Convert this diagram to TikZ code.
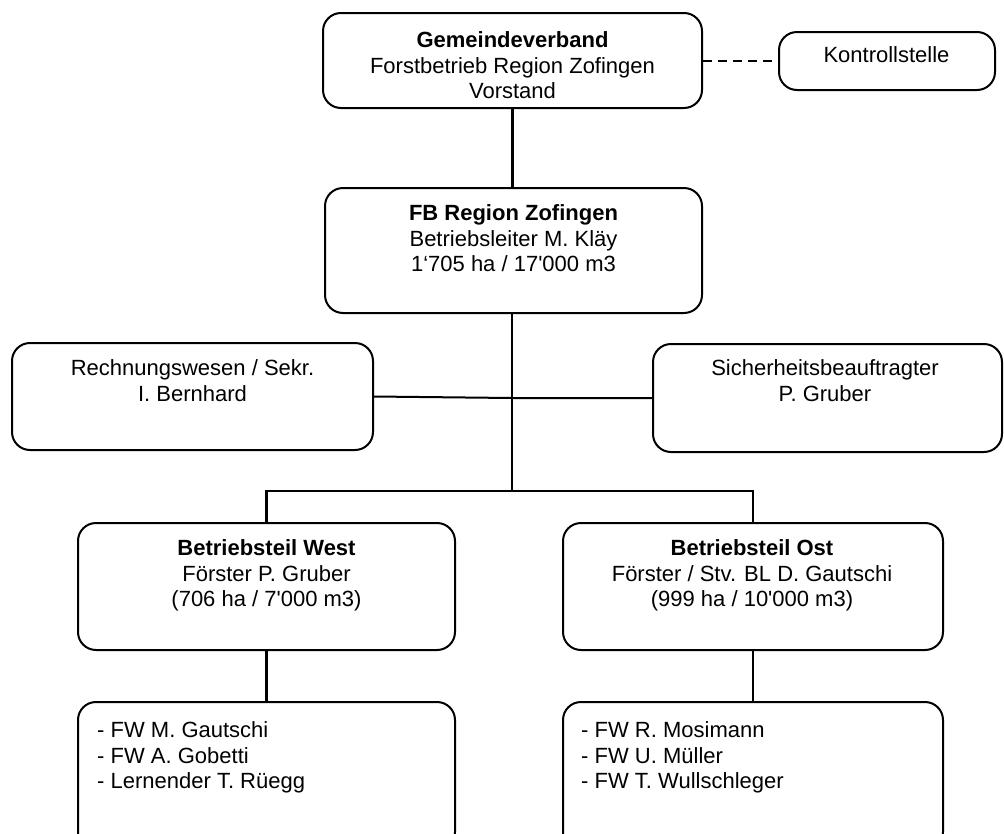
\documentclass[tikz,border=0pt]{standalone}
\usepackage{fontspec}
\setmainfont{Liberation Sans}
\begin{document}
\begin{tikzpicture}[x=1pt,y=-1pt,
  box/.style={draw, line width=2pt, rounded corners=18pt, inner sep=0pt},
  txt/.style={anchor=north, align=center, inner sep=0pt, font=\fontsize{22}{25.5}\selectfont},
  ltxt/.style={anchor=north west, align=left, inner sep=0pt, font=\fontsize{22}{25.5}\selectfont},
  btxt/.style={anchor=base, inner sep=0pt, font=\fontsize{22}{25.5}\selectfont},
  con/.style={line width=2.6pt},
  thincon/.style={line width=2pt},
]
\useasboundingbox (0,0) rectangle (1004,833);

% boxes
\node[box, minimum width=379pt, minimum height=95pt]  (gv)  at (512.5,60.5) {};
\node[box, minimum width=216pt, minimum height=58pt]  (ks)  at (887,61) {};
\node[box, minimum width=377pt, minimum height=125pt] (fb)  at (513.5,250.5) {};
\node[box, minimum width=361pt, minimum height=107pt] (rw)  at (192.5,396.5) {};
\node[box, minimum width=349pt, minimum height=108pt] (sb)  at (827.5,398) {};
\node[box, minimum width=377pt, minimum height=127pt] (bw)  at (266.5,586.5) {};
\node[box, minimum width=380pt, minimum height=127pt] (bo)  at (753,586.5) {};
\node[box, minimum width=377pt, minimum height=148pt] (sw)  at (266.5,776) {};
\node[box, minimum width=380pt, minimum height=148pt] (so)  at (753,776) {};

% texts
\node[txt] (gvt) at (512.5,31.5) {\textbf{Gemeindeverband}\\Forstbetrieb Region Zofingen\\Vorstand};
\node[btxt] (kst) at (886.5,62) {Kontrollstelle};
\node[txt] (fbt) at (513.5,204.5) {\textbf{FB Region Zofingen}\\Betriebsleiter M. Kläy\\1‘705 ha / 17\textquotesingle 000 m3};
\node[txt] (rwt) at (192.5,359.5) {Rechnungswesen / Sekr.\\I. Bernhard};
\node[txt] (sbt) at (825,359.5) {Sicherheitsbeauftragter\\P. Gruber};
\node[txt] (bwt) at (266.5,539.5) {\textbf{Betriebsteil West}\\Förster P. Gruber\\(706 ha / 7\textquotesingle 000 m3)};
\node[txt] (bot) at (752,539.5) {\textbf{Betriebsteil Ost}\\Förster / Stv. BL D. Gautschi\\(999 ha / 10\textquotesingle 000 m3)};
\node[ltxt] (swt) at (97,721.5) {- FW M. Gautschi\\- FW A. Gobetti\\- Lernender T. Rüegg};
\node[ltxt] (sot) at (581,721.5) {- FW R. Mosimann\\- FW U. Müller\\- FW T. Wullschleger};

% connectors
\coordinate (bus) at (512,491);
\coordinate (mid) at (512,398);
\draw[con] (gv.south) -- (gv.south |- fb.north);
\draw[con, dash pattern=on 9pt off 6pt] (ks.west -| gv.east) -- (ks.west);
\draw[con] (fb.south -| bus) -- (bus);
\draw[con] (bw.north) -- (bw.north |- bus) -- (bo.north |- bus) -- (bo.north);
\draw[thincon] (rw.east) -- (mid) -- (sb.west);
\draw[con] (bw.south) -- (sw.north);
\draw[con] (bo.south) -- (so.north);
\end{tikzpicture}
\end{document}
